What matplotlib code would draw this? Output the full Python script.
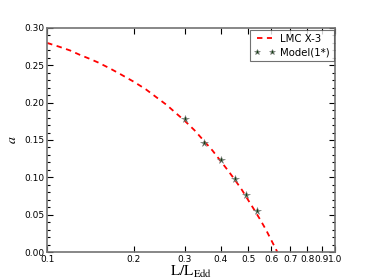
import matplotlib
matplotlib.use("Agg")
import matplotlib.pyplot as plt
from matplotlib.ticker import FixedLocator, FixedFormatter, MultipleLocator, NullLocator, FormatStrFormatter

plt.rcParams["mathtext.fontset"] = "stix"

# Curve (LMC X-3)
curve_L = [0.100, 0.110, 0.120, 0.130, 0.140, 0.150, 0.165, 0.180, 0.200, 0.220, 0.240,
           0.260, 0.280, 0.300, 0.325, 0.350, 0.375, 0.400, 0.425, 0.450, 0.475,
           0.500, 0.525, 0.550, 0.575, 0.600, 0.615, 0.630]
curve_a = [0.280, 0.275, 0.270, 0.264, 0.259, 0.254, 0.246, 0.238, 0.228, 0.218, 0.207,
           0.197, 0.186, 0.176, 0.163, 0.149, 0.136, 0.122, 0.109, 0.096, 0.083,
           0.069, 0.056, 0.043, 0.030, 0.016, 0.008, 0.000]

# Model points
model_L = [0.30, 0.35, 0.40, 0.45, 0.49, 0.535]
model_a = [0.178, 0.146, 0.123, 0.098, 0.077, 0.055]

xticks = [0.1, 0.2, 0.3, 0.4, 0.5, 0.6, 0.7, 0.8, 0.9, 1.0]
xticklabels = ["0.1", "0.2", "0.3", "0.4", "0.5", "0.6", "0.7", "0.8", "0.9", "1.0"]

fig = plt.figure(figsize=(3.74, 2.8), dpi=100)
ax = fig.add_axes([0.126, 0.1, 0.77, 0.8])

ax.plot(curve_L, curve_a, color="red", ls="--", lw=1.3, dashes=(3, 2.5), label="LMC X-3")
ax.plot(model_L, model_a, ls="none", marker="*", ms=5.5, color="#144014",
        mec="0.5", mew=0.4, label="Model(1*)")

ax.set_xscale("log")
ax.set_xlim(0.1, 1.0)
ax.set_ylim(0.0, 0.30)
ax.xaxis.set_major_locator(FixedLocator(xticks))
ax.xaxis.set_major_formatter(FixedFormatter(xticklabels))
ax.xaxis.set_minor_locator(NullLocator())
ax.yaxis.set_major_locator(MultipleLocator(0.05))
ax.yaxis.set_minor_locator(MultipleLocator(0.01))
ax.yaxis.set_major_formatter(FormatStrFormatter("%.2f"))

ax.tick_params(which="both", direction="in", top=True, right=True, labelsize=6.5, pad=2)
ax.tick_params(which="major", length=4, width=0.8)
ax.tick_params(which="minor", length=2, width=0.8)

for s in ax.spines.values():
    s.set_color("0.45")
    s.set_linewidth(1.2)

ax.set_xlabel(r"$\mathrm{L/L_{Edd}}$", fontsize=11, labelpad=0)
ax.set_ylabel(r"$a$", fontsize=10, labelpad=4)

leg = ax.legend(loc="upper right", numpoints=2, fontsize=7.3, frameon=True, fancybox=False,
                handlelength=2.0, handletextpad=0.5, borderpad=0.4, labelspacing=0.35,
                borderaxespad=0.15, markerscale=0.75)
leg.get_frame().set_edgecolor("0.3")
leg.get_frame().set_linewidth(0.8)

fig.savefig("out.png", dpi=100)
